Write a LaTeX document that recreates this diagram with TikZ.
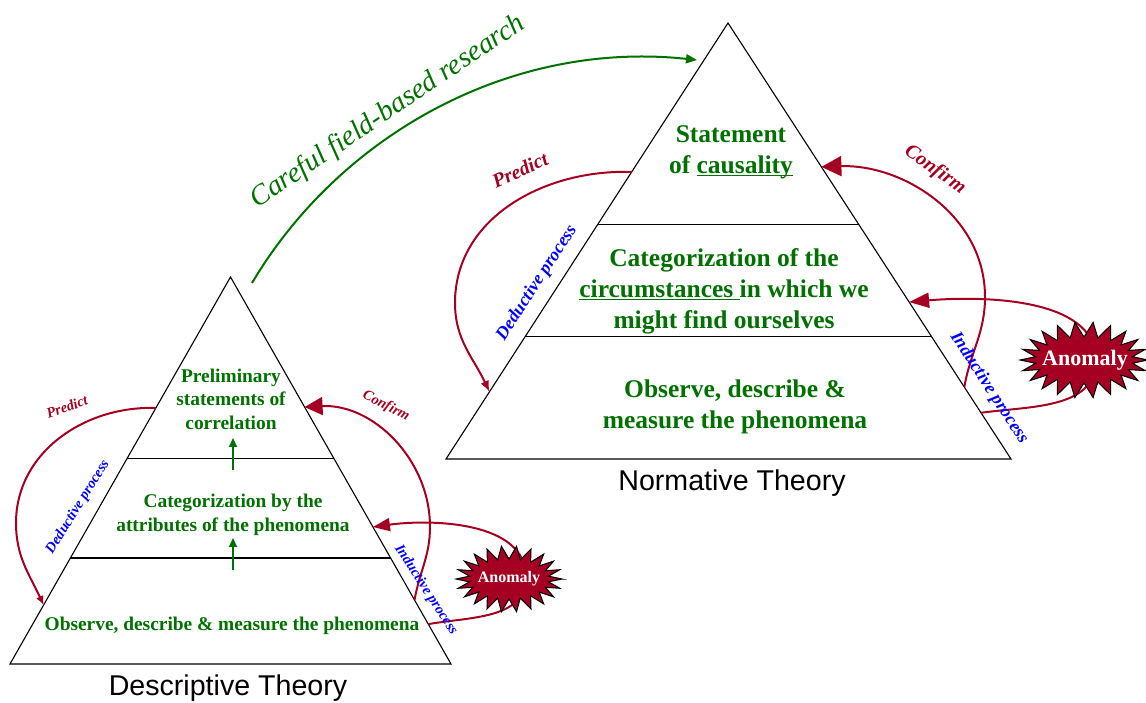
\documentclass[tikz,border=0pt]{standalone}
\usepackage{fontspec}
\setmainfont{Liberation Serif}
\newfontfamily\sansfont{Liberation Sans}
\usetikzlibrary{arrows.meta,calc}

\definecolor{rojo}{RGB}{165,0,33}
\definecolor{verde}{RGB}{0,112,0}
\definecolor{azul}{RGB}{0,0,255}

\newsavebox\subbox
\newcommand\subrayado[1]{\sbox\subbox{#1}\rlap{\rule[-2.5pt]{\wd\subbox}{0.9pt}}\usebox\subbox}

\begin{document}
\begin{tikzpicture}[x=1pt,y=1pt,
		piramide/.style={draw,line width=1.1pt},
		textoD/.style={text=verde,align=center,font=\bfseries\fontsize{19.4}{23.5}\selectfont},
		textoN/.style={text=verde,align=center,font=\bfseries\fontsize{25.5}{31}\selectfont},
		titulo/.style={font=\sansfont\fontsize{28.6}{31}\selectfont},
		etiqD/.style={font=\bfseries\itshape\fontsize{14.5}{16}\selectfont},
		etiqN/.style={font=\bfseries\itshape\fontsize{20}{22}\selectfont},
		arco/.style={draw=rojo,line width=2pt},
		subir/.style={draw=verde,line width=2pt,-{Triangle[length=9pt,width=8pt]}},
		estrella/.style={fill=rojo,draw=black,line width=1pt},
		anomalia/.style={text=white,font=\bfseries}]
		\useasboundingbox (0,0) rectangle (1146,702);

		%Piramides
		\coordinate (dA) at (230.5,425);
		\coordinate (dL) at (10,38);
		\coordinate (dR) at (451,38);
		\coordinate (nA) at (728,679);
		\coordinate (nL) at (446,243);
		\coordinate (nR) at (1011,243);
		\draw[piramide] (dA) -- (dL) -- (dR) -- cycle;
		\draw[piramide] ($(dA)!0.468!(dL)$) -- ($(dA)!0.468!(dR)$);
		\draw[piramide] ($(dA)!0.726!(dL)$) -- ($(dA)!0.726!(dR)$);
		\draw[piramide] (nA) -- (nL) -- (nR) -- cycle;
		\draw[piramide] ($(nA)!0.463!(nL)$) -- ($(nA)!0.463!(nR)$);
		\draw[piramide] ($(nA)!0.72!(nL)$) -- ($(nA)!0.72!(nR)$);

		%Textos
		\node[textoD] (d3) at (231,303) {Preliminary\\statements of\\correlation};
		\node[textoD] (d2) at (233,187) {Categorization by the\\attributes of the phenomena};
		\node[textoD] (d1) at (232,76) {Observe, describe \& measure the phenomena};
		\node[textoN] (n3) at (731,550) {Statement\\of \subrayado{causality}};
		\node[textoN] (n2) at (724,411) {Categorization of the\\\subrayado{circumstances\ }in which we\\might find ourselves};
		\node[textoN] (n1) at (735,295) {Observe, describe \&\\measure the phenomena};
		\node[titulo] (tD) at (228,14) {Descriptive Theory};
		\node[titulo] (tN) at (732,219) {Normative Theory};

		%Flechas verdes
		\coordinate (s1) at (233,132);
		\coordinate (s2) at (233,164);
		\coordinate (s3) at (233,232);
		\coordinate (s4) at (233,264);
		\draw[subir] (s1) -- (s2);
		\draw[subir] (s3) -- (s4);
		\coordinate (g1) at (252,419);
		\coordinate (g2) at (697,642);
		\draw[draw=verde,line width=2pt,-{Triangle[length=11pt,width=9pt]}] (g1) .. controls (340,567) and (510,662) .. (g2);
		\node[text=verde,font=\itshape\fontsize{28.5}{30}\selectfont,rotate=34] (campo) at (388,590) {Careful field-based research};

		%Arcos (descriptiva)
		\coordinate (dP1) at ($(dA)!0.3385!(dL)$);
		\coordinate (dP2) at (16,179);
		\coordinate (dP3) at ($(dA)!0.8475!(dL)$);
		\draw[arco,-{Latex[length=9pt,width=8pt]}] (dP1) to[out=178,in=90] (dP2) to[out=-90,in=115] (dP3);
		\coordinate (dC1) at ($(dA)!0.8346!(dR)$);
		\coordinate (dC2) at (430,175);
		\coordinate (dC3) at ($(dA)!0.336!(dR)$);
		\draw[arco,-{Triangle[length=18pt,width=18pt]}] (dC1) to[out=80,in=-90] (dC2) to[out=90,in=3] (dC3);
		\coordinate (dN1) at ($(dA)!0.897!(dR)$);
		\coordinate (dN2) at (526,125);
		\coordinate (dN3) at ($(dA)!0.646!(dR)$);
		\draw[arco,-{Triangle[length=17pt,width=13pt]}] (dN1) to[out=10,in=-90] (dN2) to[out=90,in=8,looseness=0.9] (dN3);

		%Arcos (normativa)
		\coordinate (nP1) at ($(nA)!0.3417!(nL)$);
		\coordinate (nP2) at (455,399);
		\coordinate (nP3) at ($(nA)!0.846!(nL)$);
		\draw[arco,-{Latex[length=11pt,width=9pt]}] (nP1) to[out=178,in=90] (nP2) to[out=-90,in=115] (nP3);
		\coordinate (nC1) at ($(nA)!0.835!(nR)$);
		\coordinate (nC2) at (985,405);
		\coordinate (nC3) at ($(nA)!0.330!(nR)$);
		\draw[arco,-{Triangle[length=20pt,width=20pt]}] (nC1) to[out=80,in=-90] (nC2) to[out=90,in=2] (nC3);
		\coordinate (nN1) at ($(nA)!0.894!(nR)$);
		\coordinate (nN2) at (1096,342);
		\coordinate (nN3) at ($(nA)!0.64!(nR)$);
		\draw[arco,-{Triangle[length=20pt,width=15pt]}] (nN1) to[out=8,in=-90] (nN2) to[out=90,in=5,looseness=0.85] (nN3);

		%Anomalias
		\filldraw[estrella,shift={(509,123)}] plot[domain=0:360,samples=45,variable=\t]
			({(40+13*abs(mod(\t,16.3636)-8.1818)/8.1818)*cos(\t)},{(20+13*abs(mod(\t,16.3636)-8.1818)/8.1818)*sin(\t)}) -- cycle;
		\node[anomalia,font=\bfseries\fontsize{16}{18}\selectfont] (anD) at (509,123) {Anomaly};
		\filldraw[estrella,shift={(1084,342)}] plot[domain=0:360,samples=45,variable=\t]
			({(49+15*abs(mod(\t,16.3636)-8.1818)/8.1818)*cos(\t)},{(23+15*abs(mod(\t,16.3636)-8.1818)/8.1818)*sin(\t)}) -- cycle;
		\node[anomalia,font=\bfseries\fontsize{22}{24}\selectfont] (anN) at (1085,342) {Anomaly};

		%Etiquetas
		\node[etiqD,text=rojo,rotate=20] (prD) at (67,295) {Predict};
		\node[etiqD,text=rojo,rotate=-27] (coD) at (386,296) {Confirm};
		\node[etiqD,text=azul,rotate=58] (deD) at (78,195) {Deductive process};
		\node[etiqD,text=azul,rotate=-57] (inD) at (426,112) {Inductive process};
		\node[etiqN,text=rojo,rotate=25] (prN) at (520,532) {Predict};
		\node[etiqN,text=rojo,rotate=-35] (coN) at (935,532) {Confirm};
		\node[etiqN,text=azul,font=\bfseries\itshape\fontsize{18}{20}\selectfont,rotate=57] (deN) at (537,419) {Deductive process};
		\node[etiqN,text=azul,font=\bfseries\itshape\fontsize{18}{20}\selectfont,rotate=-57] (inN) at (989,314) {Inductive process};
\end{tikzpicture}
\end{document}
